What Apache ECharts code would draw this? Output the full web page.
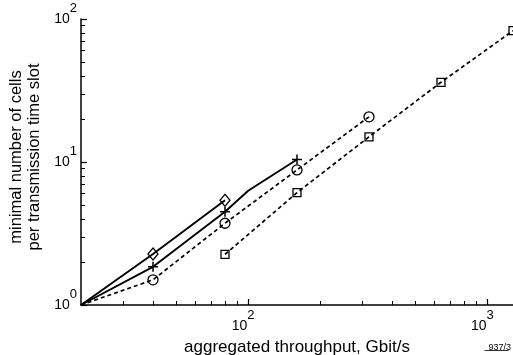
<!DOCTYPE html>
<html><head><meta charset="utf-8">
<script src="https://cdn.jsdelivr.net/npm/echarts@6/dist/echarts.min.js"></script>
<style>html,body{margin:0;padding:0;background:#fff}#c{width:513px;height:355px}</style>
</head><body><div id="c"></div><script>
// ---- data ----
const diamondX = [20, 40, 80];
const diamondY = [1, 2.27, 5.4];
const crossX = [20, 40, 80, 100, 160];
const crossY = [1, 1.85, 4.49, 6.3, 10.4];
const crossMarked = [false, true, true, false, true];
const circleX = [20, 40, 80, 160, 320];
const circleY = [1, 1.5, 3.73, 8.8, 20.7];
const circleMarked = [false, true, true, true, true];
const squareX = [80, 160, 320, 640, 1280];
const squareY = [2.26, 6.1, 15.0, 36.1, 82.8];
const xMajorTicks = [100, 1000];
const xMinorTicks = [30, 40, 50, 60, 70, 80, 90, 200, 300, 400, 500, 600, 700, 800, 900];
const yMajorTicks = [1, 10, 100];
const yMinorTicks = [2, 3, 4, 5, 6, 7, 8, 9, 20, 30, 40, 50, 60, 70, 80, 90];
const xTitle = 'aggregated throughput, Gbit/s';
const yTitle = 'minimal number of cells\nper transmission time slot';
const figId = '937/3';

const FONT = 'Liberation Sans, Arial, sans-serif';
const chart = echarts.init(document.getElementById('c'), null, {renderer: 'canvas'});

function pairs(xs, ys, marked) {
  return xs.map((x, i) => {
    const d = {value: [x, ys[i]]};
    if (marked && !marked[i]) d.symbol = 'none';
    return d;
  });
}
const supLabel = v => '{b|10}{s|' + Math.round(Math.log10(v)) + '}';
function makeRich(supPadRight) {
  return {
    b: {fontSize: 14, fontFamily: FONT, color: '#000', verticalAlign: 'middle', lineHeight: 35},
    s: {fontSize: 13, fontFamily: FONT, color: '#000', verticalAlign: 'top', lineHeight: 13, padding: [0, supPadRight, 0, 0]}
  };
}
const axisCommon = {
  type: 'log', logBase: 10, splitLine: {show: false}, minorTick: {show: false}
};
const hollow = {color: 'rgba(0,0,0,0)', borderColor: '#000', borderWidth: 1.3};
const plus = 'path://M0,5L10,5M5,0L5,10';

chart.setOption({
  animation: false,
  backgroundColor: '#fff',
  grid: {left: 81, right: 0, top: 19, bottom: 50, containLabel: false, outerBoundsMode: 'none'},
  xAxis: [
    Object.assign({}, axisCommon, {
      min: 20, max: 1280,
      name: xTitle, nameLocation: 'middle', nameGap: 34,
      nameTextStyle: {fontSize: 17, fontFamily: FONT, color: '#000'},
      axisLine: {show: true, lineStyle: {color: '#000', width: 1.5}},
      axisTick: {show: true, inside: true, length: 6, customValues: xMajorTicks, lineStyle: {color: '#000', width: 1.2}},
      axisLabel: {customValues: xMajorTicks, margin: 4, formatter: supLabel, rich: makeRich(10)}
    }),
    Object.assign({}, axisCommon, {
      min: 20, max: 1280, position: 'bottom',
      axisLine: {show: false},
      axisTick: {show: true, inside: true, length: 4, customValues: xMinorTicks, lineStyle: {color: '#000', width: 1}},
      axisLabel: {show: false}
    })
  ],
  yAxis: [
    Object.assign({}, axisCommon, {
      min: 1, max: 100,
      name: yTitle, nameLocation: 'middle', nameGap: 35, nameRotate: 90,
      nameTextStyle: {fontSize: 16.5, fontFamily: FONT, color: '#000', lineHeight: 18, padding: [0, 0, 0, 10]},
      axisLine: {show: true, lineStyle: {color: '#000', width: 1.5}},
      axisTick: {show: true, inside: true, length: 6, customValues: yMajorTicks, lineStyle: {color: '#000', width: 1.2}},
      axisLabel: {customValues: yMajorTicks, margin: 4, formatter: supLabel, rich: makeRich(0)}
    }),
    Object.assign({}, axisCommon, {
      min: 1, max: 100, position: 'left',
      axisLine: {show: false},
      axisTick: {show: true, inside: true, length: 4, customValues: yMinorTicks, lineStyle: {color: '#000', width: 1}},
      axisLabel: {show: false}
    })
  ],
  series: [
    {type: 'line', name: 'diamond', data: pairs(diamondX, diamondY, [false, true, true]),
     symbol: 'diamond', symbolSize: [10, 12], lineStyle: {color: '#000', width: 1.9},
     itemStyle: hollow},
    {type: 'line', name: 'cross', data: pairs(crossX, crossY, crossMarked),
     symbol: plus, symbolSize: 10, lineStyle: {color: '#000', width: 1.9},
     itemStyle: {color: 'rgba(0,0,0,0)', borderColor: '#000', borderWidth: 1.5}},
    {type: 'line', name: 'circle', data: pairs(circleX, circleY, circleMarked),
     symbol: 'circle', symbolSize: 10, lineStyle: {color: '#000', width: 1.7, type: [4, 3]},
     itemStyle: hollow},
    {type: 'line', name: 'square', data: pairs(squareX, squareY),
     symbol: 'rect', symbolSize: 8, lineStyle: {color: '#000', width: 1.7, type: [4, 3]},
     itemStyle: hollow}
  ],
  graphic: [
    {type: 'text', right: 2, bottom: 3,
     style: {text: figId, fontSize: 9, fontFamily: FONT, fill: '#000'}},
    {type: 'line', right: 2, bottom: 2, shape: {x1: 0, y1: 0, x2: 24, y2: 0},
     style: {stroke: '#000', lineWidth: 0.8}}
  ]
});
</script></body></html>
